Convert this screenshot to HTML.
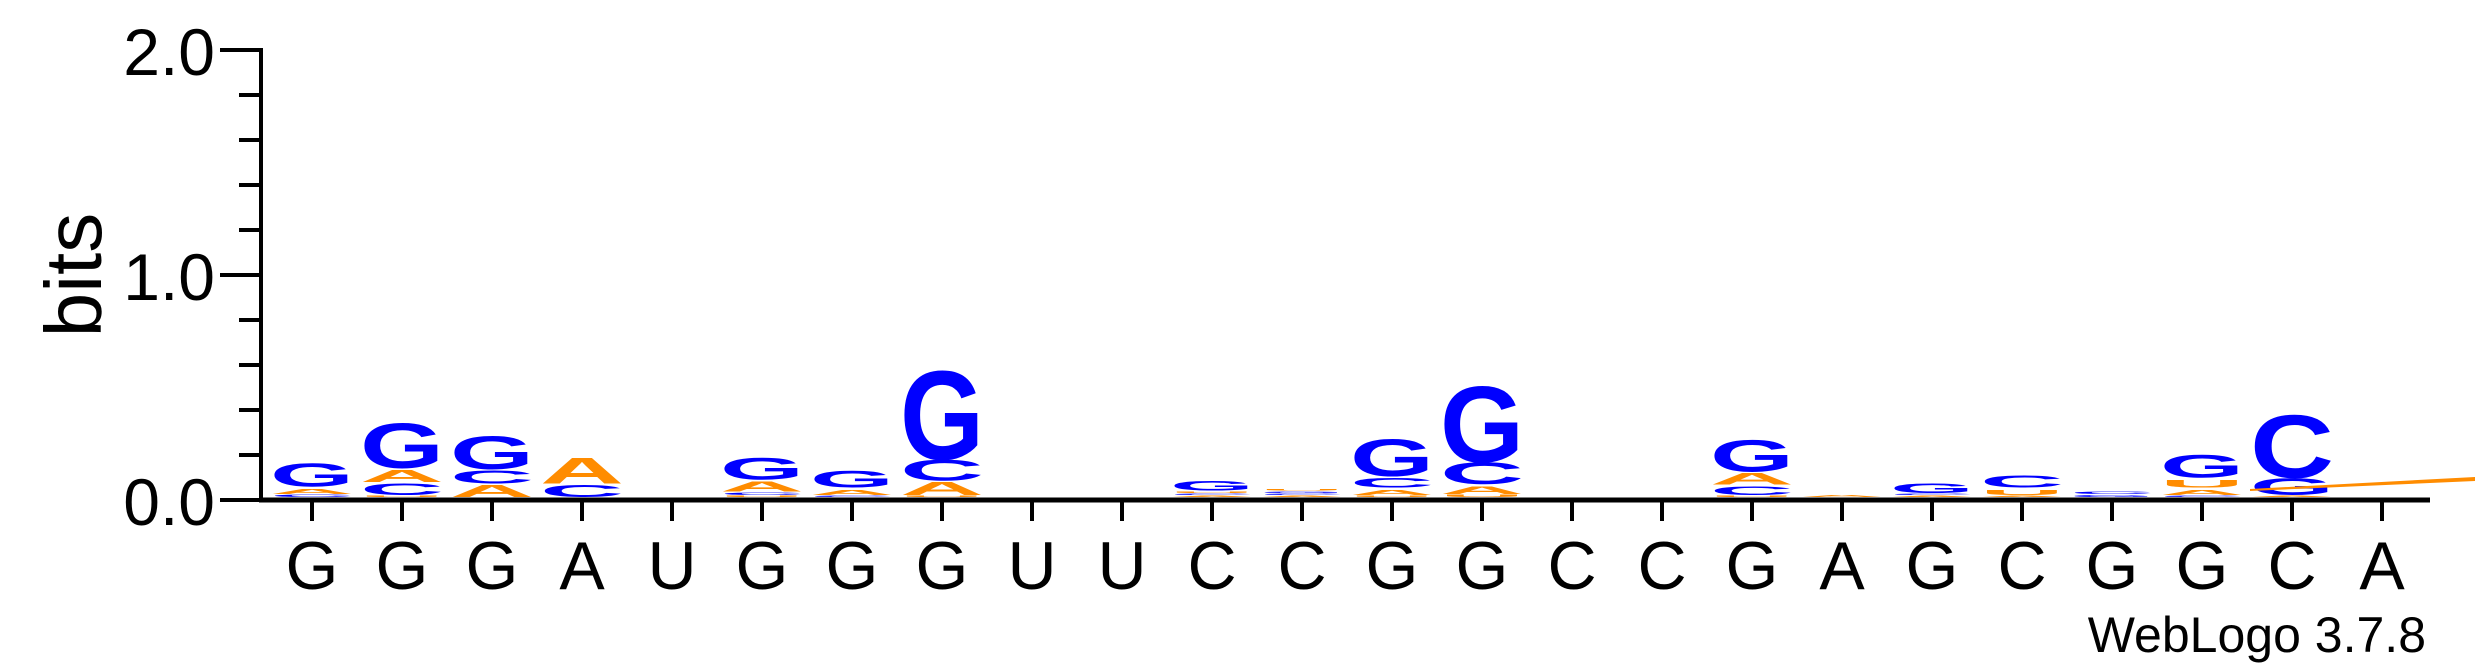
<!DOCTYPE html>
<html><head><meta charset="utf-8"><style>
html,body{margin:0;padding:0;background:#fff;}
svg{display:block;}
</style></head><body>
<svg id="logo" width="2475" height="667" viewBox="0 0 2475 667" xmlns="http://www.w3.org/2000/svg" font-family="Liberation Sans, Arial, sans-serif">
<g id="axes"></g>
<g id="stacks"></g>
<polygon points="2250,489 2475,477 2475,481 2250,491" fill="#ff8c00"/>
<text transform="translate(101,275) rotate(-90)" text-anchor="middle" font-size="80">bits</text>
<text x="2426" y="652" text-anchor="end" font-size="50">WebLogo 3.7.8</text>
</svg>
<script>
const seqLabels = ["G","G","G","A","U","G","G","G","U","U","C","C","G","G","C","C","G","A","G","C","G","G","C","A"];
const hG = [0.09,0.17,0.127,0,0,0.085,0.065,0.34,0,0,0.038,0.005,0.14,0.29,0,0,0.12,0,0.038,0,0.008,0.087,0.065,0];
const hC = [0.01,0.045,0.05,0.047,0,0.01,0.005,0.08,0,0,0.005,0.005,0.038,0.085,0,0,0.033,0,0.005,0.047,0.01,0.005,0.24,0];
const hA = [0.02,0.047,0.047,0.098,0,0.04,0.02,0.05,0,0,0.005,0.005,0.02,0.03,0,0,0.045,0.008,0.005,0.005,0,0.02,0.005,0];
const hU = [0,0.005,0,0,0,0.005,0,0.005,0,0,0.005,0.005,0.005,0.01,0,0,0.005,0,0,0.02,0,0.03,0,0];
const yTicks = [0,0.2,0.4,0.6,0.8,1.0,1.2,1.4,1.6,1.8,2.0];
const yTickLabels = ["0.0","","","","","1.0","","","","","2.0"];

const NS = "http://www.w3.org/2000/svg";
function xPos(i){ return 312 + 90*i; }
function yPos(b){ return 500 - 225*b; }
function mk(tag, attrs, parent){
  const e = document.createElementNS(NS, tag);
  for (const k in attrs) e.setAttribute(k, attrs[k]);
  parent.appendChild(e);
  return e;
}
const axes = document.getElementById("axes");
const stacks = document.getElementById("stacks");

let yl = mk("line",{x1:261,y1:yPos(2)-2,x2:261,y2:502,stroke:"#000","stroke-width":4},axes);


yTicks.forEach((t,i)=>{
  const major = yTickLabels[i] !== "";
  const tk = mk("line",{x1:major?220:239,y1:yPos(t),x2:261,y2:yPos(t),stroke:"#000","stroke-width":4},axes);
  
  
  if (major){
    const tx = mk("text",{x:215,y:yPos(t)+25,"text-anchor":"end","font-size":66},axes);
    tx.textContent = yTickLabels[i];
    
    
  }
});
let xl = mk("line",{x1:259,y1:500,x2:2430,y2:500,stroke:"#000","stroke-width":5},axes);


seqLabels.forEach((s,i)=>{
  const tk = mk("line",{x1:xPos(i),y1:500,x2:xPos(i),y2:521,stroke:"#000","stroke-width":4},axes);
  
  
  const tx = mk("text",{x:xPos(i),y:589,"text-anchor":"middle","font-size":68},axes);
  tx.textContent = s;
  
  
});
const colors = {A:"#ff8c00",U:"#ff8c00",C:"#0000ff",G:"#0000ff"};
const W = 84;
seqLabels.forEach((s,i)=>{
  const letters = [["A",hA[i]],["C",hC[i]],["G",hG[i]],["U",hU[i]]].filter(d=>d[1]>0).sort((a,b)=>a[1]-b[1]);
  let yb = 497;
  letters.forEach(d=>{
    const hpx = 225*d[1];
    const sy = hpx / 60;
    const t = mk("text",{transform:`translate(${xPos(i)-W/2},${yb}) scale(1,${sy})`,x:0,y:0,"font-size":100,"font-weight":"bold",fill:colors[d[0]],textLength:W,lengthAdjust:"spacingAndGlyphs"},stacks);
    t.textContent = d[0];
    
    
    yb -= hpx + (d[1] > 0.015 ? 3 : 1);
  });
});
</script>
</body></html>
